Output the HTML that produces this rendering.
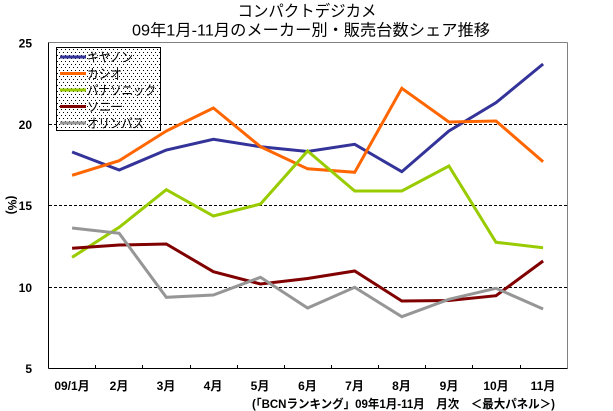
<!DOCTYPE html>
<html>
<head>
<meta charset="utf-8">
<style>
html,body{margin:0;padding:0;background:#fff;}
svg{display:block;}
</style>
</head>
<body>
<svg width="613" height="411" viewBox="0 0 613 411" xmlns="http://www.w3.org/2000/svg">
<defs>
<pattern id="dots" x="0" y="0" width="4" height="6" patternUnits="userSpaceOnUse">
<rect width="4" height="6" fill="#fff"/>
<rect x="1" y="1" width="1" height="1" fill="#000" shape-rendering="crispEdges"/>
<rect x="3" y="4" width="1" height="1" fill="#000" shape-rendering="crispEdges"/>
</pattern>
</defs>
<rect width="613" height="411" fill="#fff"/>

<!-- Title -->
<g font-family="'Liberation Sans','Noto Sans CJK JP',sans-serif" font-size="16" fill="#000">
<text x="307" y="16.5" text-anchor="middle" textLength="139" lengthAdjust="spacingAndGlyphs">コンパクトデジカメ</text>
<text x="311" y="35.5" text-anchor="middle" textLength="358" lengthAdjust="spacingAndGlyphs">09年1月-11月のメーカー別・販売台数シェア推移</text>
</g>

<!-- Gridlines -->
<g stroke="#000" stroke-width="1" stroke-dasharray="3,2" shape-rendering="crispEdges">
<line x1="49" y1="124.5" x2="567" y2="124.5"/>
<line x1="49" y1="205.5" x2="567" y2="205.5"/>
<line x1="49" y1="287.5" x2="567" y2="287.5"/>
</g>

<!-- Plot borders -->
<g shape-rendering="crispEdges">
<line x1="48.5" y1="42.5" x2="567.5" y2="42.5" stroke="#808080" stroke-width="1"/>
<line x1="567.5" y1="42.5" x2="567.5" y2="368.5" stroke="#808080" stroke-width="1"/>
<line x1="48.5" y1="42.5" x2="48.5" y2="368.5" stroke="#000" stroke-width="1"/>
<line x1="48.5" y1="368.5" x2="567.5" y2="368.5" stroke="#000" stroke-width="1"/>
</g>
<!-- x ticks -->
<g stroke="#000" stroke-width="1" shape-rendering="crispEdges">
<line x1="95.5" y1="365" x2="95.5" y2="368"/>
<line x1="142.5" y1="365" x2="142.5" y2="368"/>
<line x1="190.5" y1="365" x2="190.5" y2="368"/>
<line x1="237.5" y1="365" x2="237.5" y2="368"/>
<line x1="284.5" y1="365" x2="284.5" y2="368"/>
<line x1="331.5" y1="365" x2="331.5" y2="368"/>
<line x1="378.5" y1="365" x2="378.5" y2="368"/>
<line x1="425.5" y1="365" x2="425.5" y2="368"/>
<line x1="472.5" y1="365" x2="472.5" y2="368"/>
<line x1="520.5" y1="365" x2="520.5" y2="368"/>
</g>

<!-- Y tick labels -->
<g font-family="'Liberation Sans',sans-serif" font-size="12" font-weight="bold" fill="#000" text-anchor="end">
<text x="32" y="47.5">25</text>
<text x="32" y="129">20</text>
<text x="32" y="210">15</text>
<text x="32" y="292">10</text>
<text x="32" y="373">5</text>
</g>
<!-- Y axis title -->
<text x="12" y="205" transform="rotate(90 12 205)" text-anchor="middle" dominant-baseline="central" font-family="'Liberation Sans',sans-serif" font-size="12" font-weight="bold" fill="#000">(%)</text>

<!-- X labels -->
<g font-family="'Liberation Sans','Noto Sans CJK JP',sans-serif" font-size="12" font-weight="bold" fill="#000" text-anchor="middle">
<text x="72" y="390">09/1月</text>
<text x="119" y="390">2月</text>
<text x="166" y="390">3月</text>
<text x="213" y="390">4月</text>
<text x="260" y="390">5月</text>
<text x="307.5" y="390">6月</text>
<text x="354.5" y="390">7月</text>
<text x="401.5" y="390">8月</text>
<text x="449" y="390">9月</text>
<text x="496" y="390">10月</text>
<text x="543" y="390">11月</text>
</g>
<text x="252" y="408" textLength="303" lengthAdjust="spacingAndGlyphs" font-family="'Liberation Sans','Noto Sans CJK JP',sans-serif" font-size="12" font-weight="bold" fill="#000">(「BCNランキング」09年1月-11月　月次　＜最大パネル＞)</text>

<!-- Series -->
<g fill="none" stroke-width="3" stroke-linejoin="miter" stroke-linecap="butt">
<polyline stroke="#333399" points="72.1,152 119.2,170 166.3,150 213.4,139.3 260.5,146.7 307.6,151.5 354.7,144.3 401.8,171.7 448.9,131 496,102.7 543.1,64"/>
<polyline stroke="#FF6600" points="72.1,175.3 119.2,160.7 166.3,131 213.4,108 260.5,146.7 307.6,168.8 354.7,172.3 401.8,88.3 448.9,122 496,121 543.1,161.7"/>
<polyline stroke="#99CC00" points="72.1,257.3 119.2,227.3 166.3,189.7 213.4,216 260.5,204 307.6,151 354.7,191 401.8,191 448.9,166 496,242.3 543.1,247.7"/>
<polyline stroke="#800000" points="72.1,248.3 119.2,245 166.3,244 213.4,271.7 260.5,284 307.6,278.5 354.7,271 401.8,301 448.9,300.5 496,295.7 543.1,261"/>
<polyline stroke="#969696" points="72.1,228 119.2,233.3 166.3,297.3 213.4,295 260.5,277.3 307.6,308 354.7,287.3 401.8,316.7 448.9,299.3 496,288.3 543.1,309"/>
</g>

<!-- Legend -->
<rect x="56.5" y="47.5" width="104" height="83" fill="url(#dots)" stroke="#000" stroke-width="1" shape-rendering="crispEdges"/>
<g stroke-width="3">
<line x1="60" y1="57" x2="86" y2="57" stroke="#333399"/>
<line x1="60" y1="73.5" x2="86" y2="73.5" stroke="#FF6600"/>
<line x1="60" y1="90" x2="86" y2="90" stroke="#99CC00"/>
<line x1="60" y1="106.5" x2="86" y2="106.5" stroke="#800000"/>
<line x1="60" y1="123" x2="86" y2="123" stroke="#969696"/>
</g>
<g font-family="'Liberation Sans','Noto Sans CJK JP',sans-serif" font-size="13" fill="#000">
<text x="87" y="62" textLength="46" lengthAdjust="spacingAndGlyphs">キヤノン</text>
<text x="87" y="78.5" textLength="35" lengthAdjust="spacingAndGlyphs">カシオ</text>
<text x="87" y="95" textLength="69" lengthAdjust="spacingAndGlyphs">パナソニック</text>
<text x="87" y="111.5" textLength="36" lengthAdjust="spacingAndGlyphs">ソニー</text>
<text x="87" y="128" textLength="57" lengthAdjust="spacingAndGlyphs">オリンパス</text>
</g>
</svg>
</body>
</html>
